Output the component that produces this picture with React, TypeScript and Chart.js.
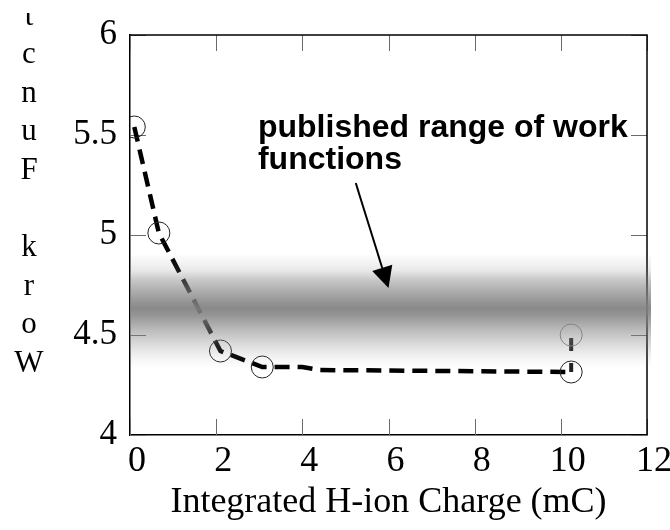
import React, { useEffect, useRef } from "react";
import { Chart, registerables } from "chart.js";

Chart.register(...registerables);

// Work function vs. integrated H-ion charge
const chargeMC = [0.1, 0.67, 2.1, 3.07, 4.0, 4.4, 10.24];
const workFunctionEV = [5.54, 5.01, 4.42, 4.34, 4.34, 4.325, 4.315];
const markerRadius = [11, 11, 11, 11, 0, 0, 11];

// repeated measurement at the last charge step
const repeatCharge = [10.24, 10.24];
const repeatWorkFunction = [4.5, 4.315];
const repeatMarker = [11, 0];

const xTicks = [0, 2, 4, 6, 8, 10, 12];
const yTicks = [4, 4.5, 5, 5.5, 6];

// literature range of work functions (shaded band)
const publishedRange = [4.335, 4.93];

const noteLines = ["published range of work", "functions"];
const noteAnchor = [2.97, 5.49];
const arrowFrom = [5.24, 5.26];
const arrowTo = [6.0, 4.735];

const yTitle = "Work Function";
const xTitle = "Integrated H-ion Charge (mC)";

const SERIF = '"Liberation Serif", "Times New Roman", serif';
const SANS = '"Liberation Sans", Arial, sans-serif';

const framePlugin = {
  id: "frame",
  beforeDatasetsDraw(chart: any) {
    const { ctx, chartArea: a, scales } = chart;
    const L = 16;
    ctx.save();
    ctx.strokeStyle = "#6a6a6a";
    ctx.lineWidth = 1;
    ctx.beginPath();
    scales.x.ticks.forEach((t: any) => {
      const px = Math.round(scales.x.getPixelForValue(t.value)) + 0.5;
      ctx.moveTo(px, a.bottom);
      ctx.lineTo(px, a.bottom - L);
      ctx.moveTo(px, a.top);
      ctx.lineTo(px, a.top + L);
    });
    scales.y.ticks.forEach((t: any) => {
      const py = Math.round(scales.y.getPixelForValue(t.value)) + 0.5;
      ctx.moveTo(a.left, py);
      ctx.lineTo(a.left + L, py);
      ctx.moveTo(a.right, py);
      ctx.lineTo(a.right - L, py);
    });
    ctx.stroke();
    ctx.strokeStyle = "#000";
    ctx.lineWidth = 1.5;
    ctx.beginPath();
    ctx.moveTo(a.left, a.top);
    ctx.lineTo(a.right, a.top);
    ctx.lineTo(a.right, a.bottom);
    ctx.stroke();
    ctx.restore();
  },
};

const bandPlugin = {
  id: "band",
  afterDatasetsDraw(chart: any) {
    const { ctx, chartArea: a, scales } = chart;
    const top = scales.y.getPixelForValue(publishedRange[1]);
    const bottom = scales.y.getPixelForValue(publishedRange[0]);
    const g = ctx.createLinearGradient(0, top, 0, bottom);
    const stops: [number, number][] = [
      [0, 0],
      [0.04, 0],
      [0.18, 0.18],
      [0.26, 0.44],
      [0.345, 0.63],
      [0.43, 0.81],
      [0.496, 0.93],
      [0.555, 0.85],
      [0.64, 0.63],
      [0.72, 0.45],
      [0.81, 0.27],
      [0.89, 0.12],
      [1, 0],
    ];
    stops.forEach(([o, al]) => g.addColorStop(o, `rgba(129,129,129,${al})`));
    ctx.save();
    ctx.fillStyle = g;
    ctx.fillRect(a.left, top, a.right - a.left + 4, bottom - top);
    ctx.restore();
  },
};

const notesPlugin = {
  id: "notes",
  afterDraw(chart: any) {
    const { ctx, chartArea: a, scales } = chart;
    const xs = scales.x;
    const ys = scales.y;
    ctx.save();

    // annotation text
    ctx.fillStyle = "#000";
    ctx.font = `bold 32px ${SANS}`;
    ctx.textAlign = "left";
    ctx.textBaseline = "alphabetic";
    const tx = xs.getPixelForValue(noteAnchor[0]);
    const ty = ys.getPixelForValue(noteAnchor[1]);
    noteLines.forEach((line, i) => ctx.fillText(line, tx, ty + i * 32));

    // arrow
    const x0 = xs.getPixelForValue(arrowFrom[0]);
    const y0 = ys.getPixelForValue(arrowFrom[1]);
    const x1 = xs.getPixelForValue(arrowTo[0]);
    const y1 = ys.getPixelForValue(arrowTo[1]);
    const ang = Math.atan2(y1 - y0, x1 - x0);
    const head = 21;
    const half = 10.5;
    const bx = x1 - head * Math.cos(ang);
    const by = y1 - head * Math.sin(ang);
    ctx.strokeStyle = "#000";
    ctx.lineWidth = 2;
    ctx.beginPath();
    ctx.moveTo(x0, y0);
    ctx.lineTo(bx, by);
    ctx.stroke();
    ctx.beginPath();
    ctx.moveTo(x1, y1);
    ctx.lineTo(bx + half * Math.sin(ang), by - half * Math.cos(ang));
    ctx.lineTo(bx - half * Math.sin(ang), by + half * Math.cos(ang));
    ctx.closePath();
    ctx.fill();

    // stacked y-axis title, read bottom to top
    ctx.beginPath();
    ctx.rect(0, 13, a.left, chart.height - 13);
    ctx.clip();
    ctx.font = `31px ${SERIF}`;
    ctx.textAlign = "center";
    const chars = yTitle.split("");
    chars.forEach((c, i) => {
      if (c === " ") return;
      ctx.fillText(c, 29, a.bottom - 63 - i * 38.6);
    });
    ctx.restore();
  },
};

export default function App() {
  const ref = useRef<HTMLCanvasElement>(null);

  useEffect(() => {
    document.body.style.margin = "0";
    const canvas = ref.current;
    if (!canvas) return;
    const chart = new Chart(canvas, {
      type: "line",
      data: {
        datasets: [
          {
            data: chargeMC.map((x, i) => ({ x, y: workFunctionEV[i] })),
            borderColor: "#000",
            borderWidth: 4.5,
            borderDash: [15, 8],
            pointRadius: markerRadius,
            pointStyle: "circle",
            pointBorderColor: "#222",
            pointBorderWidth: 1,
            pointBackgroundColor: "rgba(0,0,0,0)",
            tension: 0,
            clip: 0,
          },
          {
            data: repeatCharge.map((x, i) => ({ x, y: repeatWorkFunction[i] })),
            borderColor: "#222",
            borderWidth: 4,
            borderDash: [13, 12],
            borderDashOffset: 22,
            pointRadius: repeatMarker,
            pointStyle: "circle",
            pointBorderColor: "#8a8a8a",
            pointBorderWidth: 1,
            pointBackgroundColor: "rgba(0,0,0,0)",
            tension: 0,
          },
        ],
      },
      options: {
        responsive: false,
        animation: false,
        layout: { padding: { top: 35, right: 23, left: 0, bottom: 0 } },
        plugins: {
          legend: { display: false },
          tooltip: { enabled: false },
        },
        scales: {
          x: {
            type: "linear",
            min: 0,
            max: 12,
            afterBuildTicks: (s: any) => {
              s.ticks = xTicks.map((v) => ({ value: v }));
            },
            afterFit: (s: any) => {
              s.height = 95;
            },
            grid: { display: false, drawTicks: false },
            border: { display: true, color: "#000", width: 1.5 },
            ticks: {
              font: { family: SERIF, size: 36 },
              color: "#000",
              padding: 5,
              labelOffset: 7,
              maxRotation: 0,
              callback: (v: any) => String(v),
            },
            title: {
              display: true,
              text: xTitle,
              font: { family: SERIF, size: 36 },
              color: "#000",
              padding: { top: 0, bottom: 6 },
            },
          },
          y: {
            type: "linear",
            min: 4,
            max: 6,
            afterBuildTicks: (s: any) => {
              s.ticks = yTicks.map((v) => ({ value: v }));
            },
            afterFit: (s: any) => {
              s.width = 130;
            },
            grid: { display: false, drawTicks: false },
            border: { display: true, color: "#000", width: 1.5 },
            ticks: {
              font: { family: SERIF, size: 35 },
              color: "#000",
              padding: 13,
              callback: (v: any) => String(v),
            },
          },
        },
      },
      plugins: [framePlugin, bandPlugin, notesPlugin],
    } as any);
    return () => chart.destroy();
  }, []);

  return (
    <canvas
      ref={ref}
      width={670}
      height={530}
      style={{ display: "block" }}
    />
  );
}
